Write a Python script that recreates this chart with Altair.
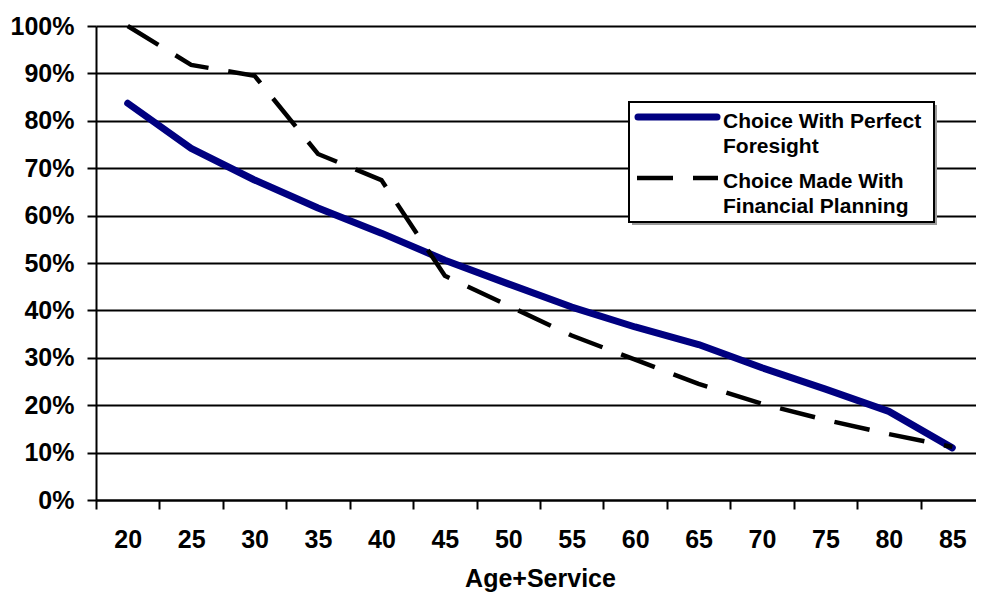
import altair as alt
import pandas as pd

# ---- data ----
ages = [20, 25, 30, 35, 40, 45, 50, 55, 60, 65, 70, 75, 80, 85]
foresight = [83.7, 74.2, 67.5, 61.6, 56.3, 50.6, 45.6, 40.7, 36.5, 32.8, 27.9, 23.4, 18.7, 11.0]
planning = [100.0, 91.8, 89.5, 73.0, 67.5, 47.3, 41.0, 34.7, 29.6, 24.5, 20.3, 16.9, 13.9, 11.2]
series_names = ["Choice With Perfect Foresight", "Choice Made With Financial Planning"]
legend_labels = ["Choice With Perfect\nForesight", "Choice Made With\nFinancial Planning"]
y_ticks = [0, 10, 20, 30, 40, 50, 60, 70, 80, 90, 100]
x_title = "Age+Service"

FONT = "Liberation Sans"
BLUE = "#000080"

df1 = pd.DataFrame({"age": ages, "value": foresight, "series": series_names[0]})
df2 = pd.DataFrame({"age": ages, "value": planning, "series": series_names[1]})

x_enc = alt.X(
    "age:O",
    bandPosition=0.5,
    scale=alt.Scale(type="band", paddingInner=0, paddingOuter=0, range=[0, 888]),
    axis=alt.Axis(
        title=x_title,
        labelAngle=0,
        tickBand="extent",
        tickSize=9,
        tickWidth=2,
        tickColor="black",
        domainColor="black",
        domainWidth=2,
        labelFont=FONT,
        labelFontSize=25,
        labelFontWeight="bold",
        labelColor="black",
        labelPadding=18,
        titleFont=FONT,
        titleFontSize=25,
        titleFontWeight="bold",
        titleColor="black",
        titlePadding=14,
        titleX=444,
        grid=False,
    ),
)
y_enc = alt.Y(
    "value:Q",
    scale=alt.Scale(domain=[0, 100], nice=False),
    axis=alt.Axis(
        title=None,
        values=y_ticks,
        labelExpr="datum.value + '%'",
        tickSize=9,
        tickWidth=2,
        tickColor="black",
        domainColor="black",
        domainWidth=2,
        grid=True,
        gridColor="black",
        gridWidth=2,
        gridOpacity=1,
        labelFont=FONT,
        labelFontSize=25,
        labelFontWeight="bold",
        labelColor="black",
        labelPadding=13,
    ),
)

line1 = alt.Chart(df1).mark_line(color=BLUE, strokeWidth=7, strokeCap="round", strokeJoin="round").encode(
    x=x_enc, y=y_enc
)
line2 = alt.Chart(df2).mark_line(color="black", strokeWidth=4.5, strokeDash=[36, 20]).encode(
    x=x_enc, y=y_enc
)

# ---- legend box (in plot pixel coordinates) ----
one = pd.DataFrame({"k": [0]})
shadow = alt.Chart(one).mark_rect(fill="#9a9a9a").encode(
    x=alt.value(536), x2=alt.value(841), y=alt.value(79), y2=alt.value(199)
)
box = alt.Chart(one).mark_rect(fill="white", stroke="black", strokeWidth=2).encode(
    x=alt.value(533), x2=alt.value(838), y=alt.value(76), y2=alt.value(196)
)
sample1 = alt.Chart(one).mark_rule(color=BLUE, strokeWidth=7, strokeCap="round").encode(
    x=alt.value(542), x2=alt.value(621), y=alt.value(91)
)
sample2 = alt.Chart(one).mark_rule(color="black", strokeWidth=4.5, strokeDash=[36, 20]).encode(
    x=alt.value(541), x2=alt.value(622), y=alt.value(152)
)
text1 = alt.Chart(pd.DataFrame({"t": [legend_labels[0]]})).mark_text(
    lineBreak="\n", align="left", baseline="alphabetic", lineHeight=25,
    font=FONT, fontSize=21, fontWeight="bold", color="black"
).encode(text="t:N", x=alt.value(627), y=alt.value(102))
text2 = alt.Chart(pd.DataFrame({"t": [legend_labels[1]]})).mark_text(
    lineBreak="\n", align="left", baseline="alphabetic", lineHeight=25,
    font=FONT, fontSize=21, fontWeight="bold", color="black"
).encode(text="t:N", x=alt.value(627), y=alt.value(162))

chart = alt.layer(line1, line2, shadow, box, sample1, sample2, text1, text2).properties(
    width=880,
    height=474,
    autosize=alt.AutoSizeParams(type="none"),
    padding={"left": 88, "top": 18, "right": 0, "bottom": 94},
    background="white",
).configure_view(stroke=None)

chart.save("out.html", embed_options={"renderer": "svg", "actions": False})
